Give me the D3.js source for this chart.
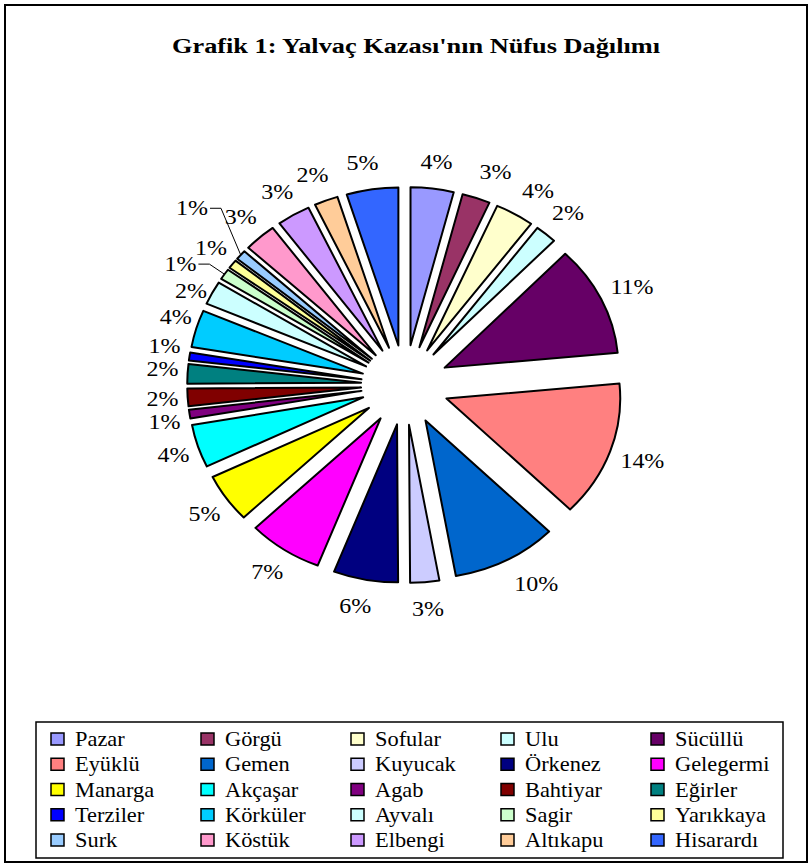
<!DOCTYPE html>
<html>
  <head>
    <meta charset="utf-8">
    <title></title>
    <style>
      body { margin: 0; background: #fff; }
      svg { display: block; }
      text { font-family: "Liberation Serif", "Times New Roman", serif; fill: #000; }
    </style>
    <script src="https://cdn.jsdelivr.net/npm/d3@7"></script>
  </head>
  <body>
    <div id="chart"></div>
    <script>
var title = "Grafik 1: Yalvaç Kazası'nın Nüfus Dağılımı";

var villages = ["Pazar", "Görgü", "Sofular", "Ulu", "Sücüllü",
  "Eyüklü", "Gemen", "Kuyucak", "Örkenez", "Gelegermi",
  "Manarga", "Akçaşar", "Agab", "Bahtiyar", "Eğirler",
  "Terziler", "Körküler", "Ayvalı", "Sagir", "Yarıkkaya",
  "Surk", "Köstük", "Elbengi", "Altıkapu", "Hisarardı"];

// share of population, percent
var shares = [4.0, 2.6, 3.6, 2.0, 11.3,
  13.9, 9.8, 2.7, 6.0, 6.9,
  5.0, 4.4, 0.9, 1.8, 2.0,
  0.8, 3.8, 2.4, 1.1, 0.9,
  1.0, 3.0, 3.1, 2.2, 4.8];

var colors = ["#9999FF", "#993366", "#FFFFCC", "#CCFFFF", "#660066",
  "#FF8080", "#0066CC", "#CCCCFF", "#000080", "#FF00FF",
  "#FFFF00", "#00FFFF", "#800080", "#800000", "#008080",
  "#0000FF", "#00CCFF", "#CCFFFF", "#CCFFCC", "#FFFF99",
  "#99CCFF", "#FF99CC", "#CC99FF", "#FFCC99", "#3366FF"];

var W = 811, H = 867;
var cx = 405, cy = 385, R = 158, explode = 40, sx = 1.1;
var labelRxRight = 252, labelRxLeft = 236, labelRy = 225;
// labels Excel pushed apart to avoid overlaps
var nudge = { "Görgü": [8, 0], "Sofular": [6, 0], "Gemen": [14, 0],
  "Agab": [0, 4], "Eğirler": [0, -3], "Terziler": [0, -7], "Körküler": [4, -4], "Ayvalı": [2, 11] };
// labels moved aside, with a leader line back to the slice
var moved = { "Sagir": [-22, 5], "Surk": [-28, -29] };

var svg = d3.select("#chart").append("svg").attr("width", W).attr("height", H);

svg.append("rect").attr("x", 5).attr("y", 5).attr("width", 802).attr("height", 857)
  .attr("fill", "#fff").attr("stroke", "#000").attr("stroke-width", 2);

svg.append("text").attr("x", 416).attr("y", 53).attr("text-anchor", "middle")
  .attr("font-weight", "bold").attr("font-size", 20)
  .attr("textLength", 488).attr("lengthAdjust", "spacingAndGlyphs")
  .text(title);

var data = villages.map(function(v, i){ return { name: v, value: shares[i], color: colors[i] }; });
var arcs = d3.pie().sort(null).value(function(d){ return d.value; })(data);
arcs.forEach(function(a){ a.mid = (a.startAngle + a.endAngle) / 2; });

var arc = d3.arc().innerRadius(0).outerRadius(R);

var pie = svg.append("g").attr("transform", "translate(" + cx + "," + cy + ") scale(" + sx + ",1)");
pie.selectAll("path").data(arcs).enter().append("path")
  .attr("d", arc)
  .attr("transform", function(a){
    return "translate(" + explode * Math.sin(a.mid) + "," + (-explode * Math.cos(a.mid)) + ")";
  })
  .attr("fill", function(a){ return a.data.color; })
  .attr("stroke", "#000").attr("stroke-width", 2)
  .attr("stroke-linejoin", "round")
  .attr("vector-effect", "non-scaling-stroke");

function polar(r, ang){ return [cx + sx * r * Math.sin(ang), cy - r * Math.cos(ang)]; }

var labels = svg.append("g");
arcs.forEach(function(a){
  var s = Math.sin(a.mid);
  var p = [s > 0 ? cx + labelRxRight * s : cx + labelRxLeft * s - 7, cy - labelRy * Math.cos(a.mid)];
  var n = nudge[a.data.name];
  if (n) p = [p[0] + n[0], p[1] + n[1]];
  var shift = moved[a.data.name];
  if (shift) {
    p = [p[0] + shift[0], p[1] + shift[1]];
    var end = polar(R + explode, a.mid);
    labels.append("polyline")
      .attr("points", [[p[0] + 18, p[1]], [p[0] + 29, p[1]], end].join(" "))
      .attr("fill", "none").attr("stroke", "#000").attr("stroke-width", 1);
  }
  labels.append("g").attr("transform", "translate(" + p[0] + "," + p[1] + ")")
    .append("text").attr("transform", "scale(1.2,1)")
    .attr("text-anchor", "middle").attr("dy", "0.35em")
    .attr("font-size", 20).attr("fill", "#222")
    .text(Math.round(a.data.value) + "%");
});

// legend
svg.append("rect").attr("x", 36).attr("y", 722).attr("width", 747).attr("height", 136)
  .attr("fill", "#fff").attr("stroke", "#000").attr("stroke-width", 1.5);

var colX = d3.scaleLinear().domain([0, 4]).range([51, 651]);
var rowY = d3.scaleLinear().domain([0, 4]).range([739, 840]);

var items = svg.append("g").selectAll("g").data(data).enter().append("g")
  .attr("transform", function(d, i){ return "translate(" + colX(i % 5) + "," + rowY(Math.floor(i / 5)) + ")"; });
items.append("rect").attr("x", 0).attr("y", -6).attr("width", 13).attr("height", 12)
  .attr("fill", function(d){ return d.color; })
  .attr("stroke", "#000").attr("stroke-width", 1.5);
items.append("g").attr("transform", "translate(24,0) scale(1.12,1)")
  .append("text").attr("dy", "0.35em").attr("font-size", 20)
  .text(function(d){ return d.name; });
    </script>
  </body>
</html>
